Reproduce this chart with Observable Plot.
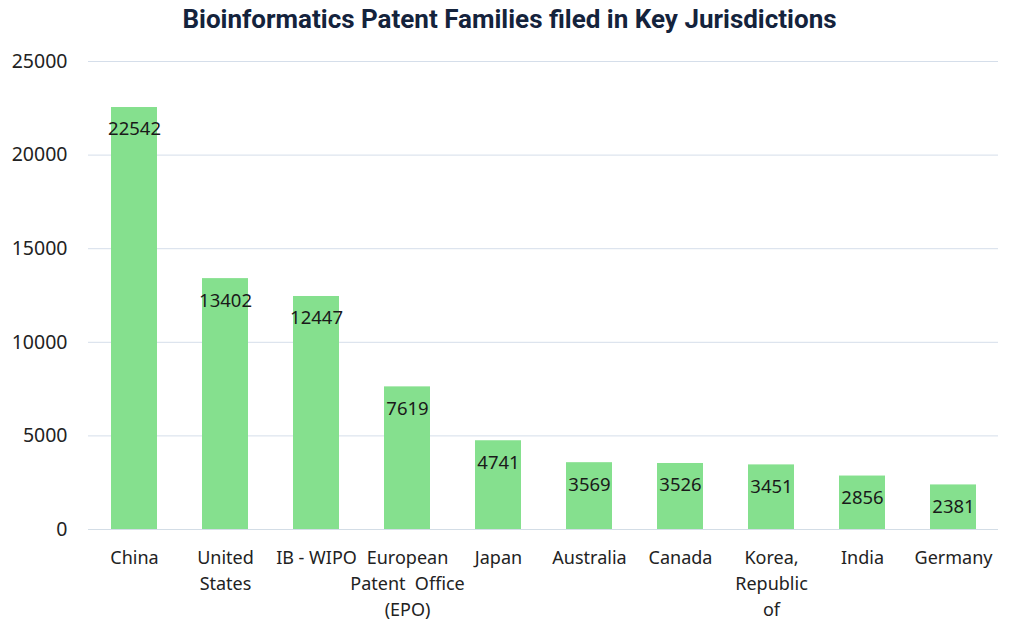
<!DOCTYPE html>
<html>
<head>
<meta charset="utf-8">
<script src="https://cdn.jsdelivr.net/npm/d3@7"></script>
<script src="https://cdn.jsdelivr.net/npm/@observablehq/plot@0.6"></script>
<style>
  body { margin: 0; background: #fff; }
  #title { height: 38px; line-height: 38px; text-align: center; font-family: "Liberation Sans Narrow", "Roboto", sans-serif; font-weight: 700; font-size: 26px; color: #14233c; }
  #chart svg { display: block; }
</style>
</head>
<body>
<div id="title">Bioinformatics Patent Families filed in Key Jurisdictions</div>
<div id="chart"></div>
<script>
const categories = ["China", "United States", "IB - WIPO", "European Patent Office (EPO)", "Japan", "Australia", "Canada", "Korea, Republic of", "India", "Germany"];
const values = [22542, 13402, 12447, 7619, 4741, 3569, 3526, 3451, 2856, 2381];
const tickLabels = ["China", "United\nStates", "IB - WIPO", "European\nPatent  Office\n(EPO)", "Japan", "Australia", "Canada", "Korea,\nRepublic\nof", "India", "Germany"];
const yTicks = [0, 5000, 10000, 15000, 20000, 25000];

const data = categories.map((c, i) => ({category: c, value: values[i]}));
const labelOf = new Map(categories.map((c, i) => [c, tickLabels[i]]));

const chart = Plot.plot({
  width: 1019,
  height: 584,
  marginTop: 23,
  marginBottom: 93,
  marginLeft: 88,
  marginRight: 21,
  style: { fontFamily: "'Noto Sans', sans-serif", fontSize: "18px", color: "#222" },
  x: { domain: categories, paddingInner: 0.5, paddingOuter: 0.25, label: null },
  y: { domain: [0, 25000], label: null },
  marks: [
    Plot.gridY(yTicks, { stroke: "#d5deea", strokeOpacity: 1 }),
    Plot.barY(data, { x: "category", y: "value", fill: "#85e08e" }),
    Plot.ruleY([0], { stroke: "#d3dde6" }),
    Plot.text(data, { x: "category", y: "value", text: d => String(d.value), dy: 22, fill: "#1a1a1a", fontSize: 18.5 }),
    Plot.axisY(yTicks, { tickSize: 0, tickPadding: 21, tickFormat: d => String(d), fontSize: 19.5, fill: "#222" }),
    Plot.axisX({ tickSize: 0, tickPadding: 16, tickFormat: d => labelOf.get(d), fontSize: 18, lineHeight: 1.45, fill: "#222" })
  ]
});
document.getElementById("chart").appendChild(chart);
</script>
</body>
</html>
